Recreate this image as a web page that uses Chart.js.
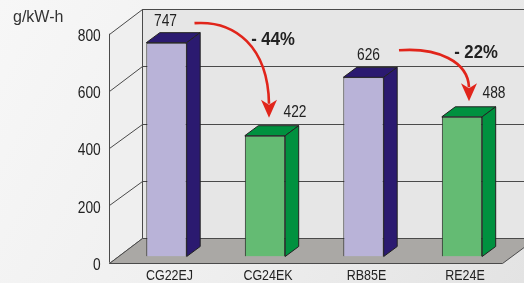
<!DOCTYPE html>
<html>
<head>
<meta charset="utf-8">
<script src="https://cdn.jsdelivr.net/npm/chart.js@4"></script>
<style>
html, body { margin: 0; padding: 0; background: #f0f0f0; }
canvas { display: block; }
</style>
</head>
<body>
<canvas id="chart" width="524" height="283"></canvas>
<script>
// data
var models = ['CG22EJ', 'CG24EK', 'RB85E', 'RE24E'];
var fuel = [747, 422, 626, 488];
var yTicks = [0, 200, 400, 600, 800];
var savings = ['- 44%', '- 22%'];
var unit = 'g/kW-h';

var frontColor = ['#b9b3d8', '#64bb73', '#b9b3d8', '#64bb73'];
var darkColor = ['#2b1a70', '#00913f', '#2b1a70', '#00913f'];
var FONT = "'Liberation Sans', Arial, sans-serif";
var NARROW = 0.86; // the original face is narrower than Liberation Sans

// box offsets (front plane, back wall, bar depth) relative to the bar plane
var FRONT = { dx: -8.7, dy: 6.2 };
var BACK = { dx: 25, dy: -18.3 };
var DEPTH = { dx: 13.5, dy: -10 };

function poly(ctx, pts) {
    ctx.beginPath();
    ctx.moveTo(pts[0][0], pts[0][1]);
    for (var i = 1; i < pts.length; i++) ctx.lineTo(pts[i][0], pts[i][1]);
    ctx.closePath();
}

function text(ctx, s, x, y, sx) {
    ctx.save();
    ctx.translate(x, y);
    ctx.scale(sx, 1);
    ctx.fillText(s, 0, 0);
    ctx.restore();
}

function barBox(chart, i) {
    var b = chart.getDatasetMeta(0).data[i].getProps(['x', 'y', 'base', 'width'], true);
    return { l: b.x - b.width / 2, r: b.x + b.width / 2, x: b.x, top: b.y, base: b.base };
}

var box3d = {
    id: 'box3d',
    beforeDraw: function (chart) {
        var ctx = chart.ctx;
        var g = ctx.createLinearGradient(0, 0, chart.width, chart.height);
        g.addColorStop(0, '#f7f7f7');
        g.addColorStop(0.5, '#efefef');
        g.addColorStop(1, '#e3e3e3');
        ctx.save();
        ctx.fillStyle = g;
        ctx.fillRect(0, 0, chart.width, chart.height);
        ctx.fillStyle = '#333';
        ctx.font = '16px ' + FONT;
        ctx.textBaseline = 'middle';
        text(ctx, unit, 13, 18, 1);
        ctx.restore();
    },
    beforeDatasetsDraw: function (chart) {
        var ctx = chart.ctx, y = chart.scales.y, a = chart.chartArea;
        var top = y.getPixelForValue(yTicks[yTicks.length - 1]), bot = y.getPixelForValue(0);
        var fl = Math.round(a.left + FRONT.dx) + 0.5, bl = Math.round(a.left + BACK.dx) + 0.5;
        ctx.save();
        ctx.lineWidth = 1;
        ctx.strokeStyle = '#4a4a4a';
        ctx.fillStyle = '#e6e6e6';
        ctx.fillRect(bl, top + BACK.dy, chart.width - bl, bot - top);
        ctx.fillStyle = '#efefef';
        poly(ctx, [[fl, bot + FRONT.dy], [fl, top + FRONT.dy], [bl, top + BACK.dy], [bl, bot + BACK.dy]]);
        ctx.fill();
        y.ticks.forEach(function (t) {
            var p = y.getPixelForValue(t.value);
            ctx.beginPath();
            ctx.moveTo(fl, Math.round(p + FRONT.dy) + 0.5);
            ctx.lineTo(bl, Math.round(p + BACK.dy) + 0.5);
            ctx.lineTo(chart.width, Math.round(p + BACK.dy) + 0.5);
            ctx.stroke();
        });
        ctx.beginPath();
        ctx.moveTo(bl, top + BACK.dy); ctx.lineTo(bl, bot + BACK.dy);
        ctx.moveTo(fl, top + FRONT.dy); ctx.lineTo(fl, bot + FRONT.dy);
        ctx.stroke();
        // floor
        var fb = Math.round(bot + FRONT.dy) + 0.5, bb = Math.round(bot + BACK.dy) + 0.5;
        ctx.fillStyle = '#aaa8a5';
        poly(ctx, [[fl, fb], [a.right + FRONT.dx, fb], [a.right + BACK.dx, bb], [bl, bb]]);
        ctx.fill();
        ctx.stroke();
        ctx.restore();
    },
    afterDatasetsDraw: function (chart) {
        var ctx = chart.ctx, xs = chart.scales.x, ys = chart.scales.y;
        ctx.save();
        ctx.lineWidth = 1;
        ctx.strokeStyle = '#222';
        ctx.lineJoin = 'round';
        models.forEach(function (m, i) {
            var b = barBox(chart, i);
            ctx.fillStyle = darkColor[i];
            poly(ctx, [[b.l, b.top], [b.r, b.top], [b.r + DEPTH.dx, b.top + DEPTH.dy], [b.l + DEPTH.dx, b.top + DEPTH.dy]]);
            ctx.fill(); ctx.stroke();
            poly(ctx, [[b.r, b.top], [b.r + DEPTH.dx, b.top + DEPTH.dy], [b.r + DEPTH.dx, b.base + DEPTH.dy], [b.r, b.base]]);
            ctx.fill(); ctx.stroke();
        });

        ctx.fillStyle = '#222';
        ctx.textBaseline = 'middle';
        // axis tick labels, from the chart's scales
        ctx.font = '16px ' + FONT;
        ctx.textAlign = 'right';
        ys.ticks.forEach(function (t) {
            text(ctx, String(t.value), chart.chartArea.left - 16.5, ys.getPixelForValue(t.value) + 9, NARROW);
        });
        ctx.font = '14.5px ' + FONT;
        ctx.textAlign = 'center';
        chart.data.labels.forEach(function (lab, i) {
            text(ctx, lab, xs.getPixelForValue(i) + 3, chart.chartArea.bottom + 19, NARROW);
        });

        // value labels
        var shift = [[-1, -21], [30, -23], [5, -22], [32, -23]];
        ctx.font = '16px ' + FONT;
        fuel.forEach(function (v, i) {
            var b = barBox(chart, i);
            text(ctx, String(v), b.x + shift[i][0], b.top + shift[i][1], NARROW);
        });

        // red arrows from the old model to the new one
        var arrows = [
            { from: 0, to: 1, s: [28, -19.5], t: [4, -18], txt: [8, -96] },
            { from: 2, to: 3, s: [35.5, -27], t: [7, -15.5], txt: [14, -64] }
        ];
        arrows.forEach(function (ar, k) {
            var a = barBox(chart, ar.from), b = barBox(chart, ar.to);
            var sx = a.x + ar.s[0], sy = a.top + ar.s[1];
            var tx = b.x + ar.t[0], ty = b.top + ar.t[1];
            var ny = ty - 14;
            ctx.strokeStyle = '#e1251b';
            ctx.fillStyle = '#e1251b';
            ctx.lineWidth = 2.6;
            ctx.beginPath();
            ctx.moveTo(sx, sy);
            ctx.bezierCurveTo(sx + 0.55 * (tx - sx), sy - 3, tx - 1, sy + 0.3 * (ny - sy), tx, ny);
            ctx.stroke();
            poly(ctx, [[tx, ty], [tx - 8, ty - 18], [tx, ty - 13], [tx + 8, ty - 18]]);
            ctx.fill();
            ctx.fillStyle = '#222';
            ctx.font = 'bold 19px ' + FONT;
            text(ctx, savings[k], b.x + ar.txt[0], b.top + ar.txt[1], 0.88);
        });
        ctx.restore();
    }
};

new Chart(document.getElementById('chart'), {
    type: 'bar',
    data: {
        labels: models,
        datasets: [{
            data: fuel,
            backgroundColor: frontColor,
            borderColor: '#222',
            borderWidth: 1,
            barPercentage: 0.41,
            categoryPercentage: 1
        }]
    },
    options: {
        responsive: false,
        animation: false,
        events: [],
        layout: { padding: { left: 0, top: 27.5, right: 12.75, bottom: 0 } },
        plugins: { legend: { display: false }, tooltip: { enabled: false } },
        scales: {
            x: {
                grid: { display: false, drawTicks: false },
                border: { display: false },
                ticks: { display: false },
                afterFit: function (s) { s.height = 26.5; }
            },
            y: {
                min: yTicks[0],
                max: yTicks[yTicks.length - 1],
                afterBuildTicks: function (s) { s.ticks = yTicks.map(function (v) { return { value: v }; }); },
                grid: { display: false, drawTicks: false },
                border: { display: false },
                ticks: { display: false },
                afterFit: function (s) { s.width = 117.25; }
            }
        }
    },
    plugins: [box3d]
});
</script>
</body>
</html>
